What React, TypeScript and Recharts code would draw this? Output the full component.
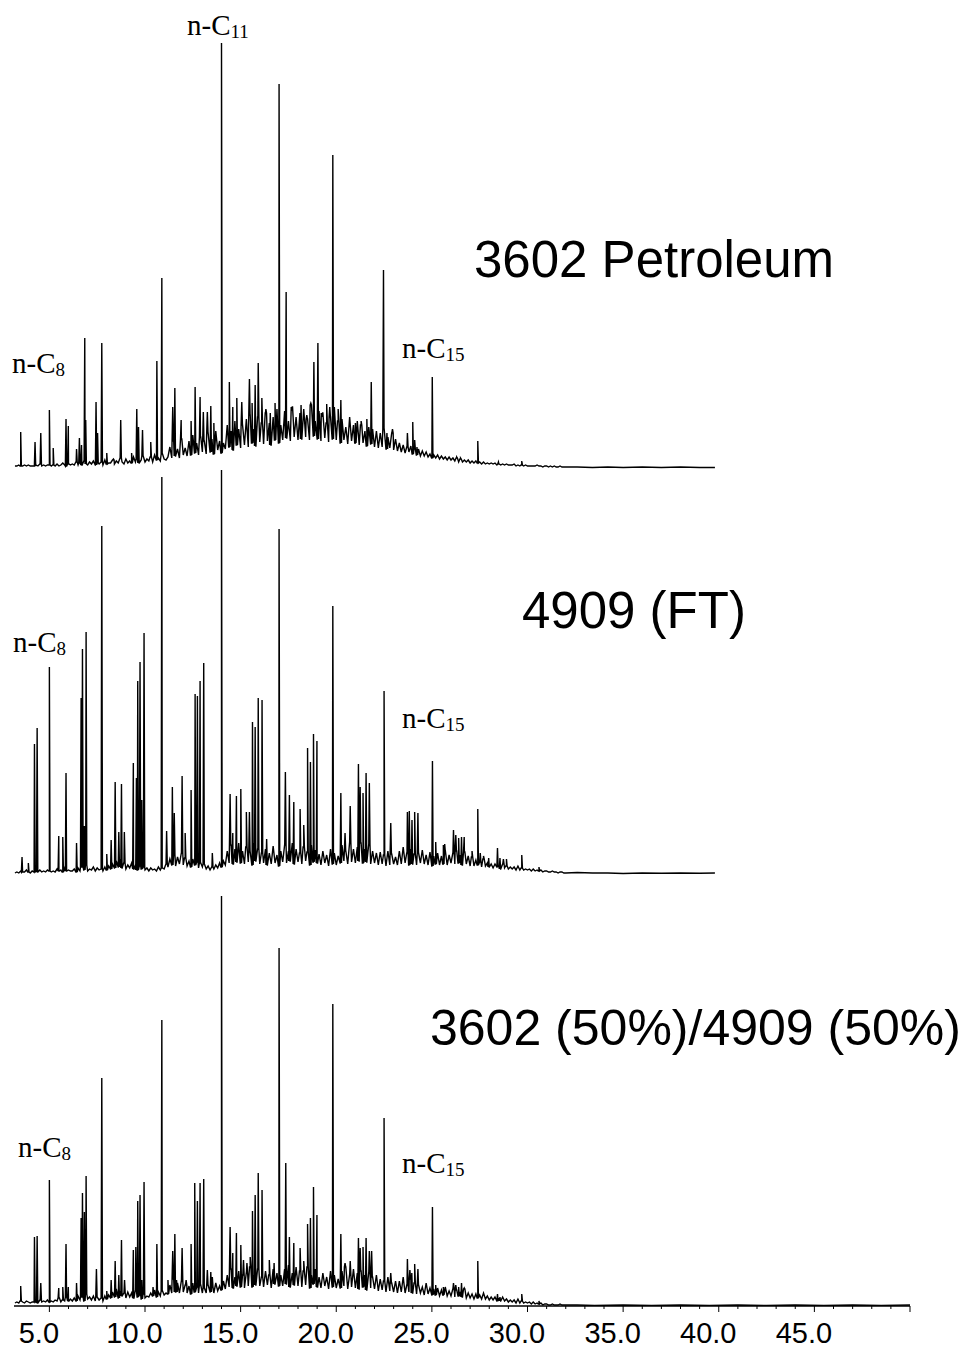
import React from 'react';
import { LineChart, Line, XAxis, YAxis } from 'recharts';

// ---------- shared axis values ----------
const X_DOMAIN: [number, number] = [3.15, 50];
const xTickValues = [5, 6, 7, 8, 9, 10, 11, 12, 13, 14, 15, 16, 17, 18, 19, 20, 21, 22, 23, 24, 25, 26, 27, 28, 29, 30, 31, 32, 33, 34, 35, 36, 37, 38, 39, 40, 41, 42, 43, 44, 45, 46, 47, 48, 49, 50];
const xLabeledTicks = [5, 10, 15, 20, 25, 30, 35, 40, 45];

// sampled signal: retention time 3.2 .. 32.0 min, every 0.1 min
const GRID_START = 3.2;
const GRID_STEP = 0.1;

// ---------- 3602 Petroleum ----------
const petroGrid = [
  1, 1, 2, 1, 1, 2, 1, 2, 1, 1,
  1, 2, 1, 3, 1, 2, 1, 2, 2, 1,
  2, 1, 3, 1, 2, 4, 2, 1, 3, 2,
  3, 2, 5, 2, 4, 2, 6, 3, 2, 5,
  3, 6, 2, 4, 3, 5, 2, 7, 3, 4,
  4, 7, 3, 6, 4, 9, 5, 3, 8, 4,
  6, 4, 10, 5, 8, 4, 7, 11, 5, 8,
  6, 10, 5, 12, 7, 9, 6, 13, 8, 7,
  10, 20, 9, 26, 11, 18, 9, 28, 12, 19,
  11, 26, 12, 32, 14, 24, 12, 30, 15, 26,
  13, 34, 15, 28, 13, 36, 17, 26, 14, 24,
  18, 42, 20, 36, 17, 46, 22, 38, 19, 42,
  22, 48, 20, 52, 24, 38, 21, 50, 25, 44,
  23, 54, 26, 44, 22, 50, 27, 58, 24, 42,
  27, 56, 29, 46, 26, 60, 30, 50, 27, 54,
  28, 58, 30, 48, 27, 62, 31, 46, 28, 56,
  26, 54, 29, 44, 25, 50, 28, 60, 27, 46,
  24, 48, 27, 40, 23, 50, 26, 42, 24, 46,
  22, 42, 24, 36, 21, 40, 23, 38, 20, 36,
  19, 34, 20, 38, 18, 30, 19, 34, 17, 28,
  16, 24, 15, 22, 14, 20, 15, 21, 13, 18,
  12, 18, 11, 16, 11, 15, 10, 13, 9, 12,
  9, 12, 8, 11, 8, 10, 7, 10, 7, 9,
  6, 9, 5, 8, 5, 7, 5, 7, 4, 6,
  4, 6, 4, 5, 3, 5, 3, 4, 3, 4,
  3, 4, 2, 3, 2, 3, 2, 3, 2, 2,
  2, 3, 1, 2, 1, 2, 1, 2, 1, 1,
  1, 1, 1, 2, 1, 1, 0, 1, 1, 0,
  1, 0, 1, 0, 0, 1, 0, 0, 0,
];
const petroPeakTimes = [3.5, 4.25, 4.55, 5.0, 5.2, 5.87, 5.99, 6.42, 6.57, 6.68, 6.85, 6.9, 7.44, 7.52, 7.74, 8.0, 8.35, 8.73, 9.3, 9.57, 9.66, 9.87, 10.3, 10.62, 10.88, 11.45, 11.56, 11.89, 12.41, 12.62, 12.88, 13.05, 13.26, 13.44, 13.6, 14.0, 14.41, 14.59, 14.8, 15.06, 15.46, 15.6, 15.76, 15.92, 16.11, 16.32, 16.55, 16.8, 17.01, 17.38, 17.68, 18.16, 18.46, 18.67, 18.83, 19.04, 19.25, 19.5, 19.66, 19.82, 20.1, 20.24, 21.0, 21.3, 21.6, 21.83, 22.47, 22.65, 22.94, 23.72, 24.0, 24.1, 24.22, 25.02, 26.3, 26.5, 27.4, 28.48, 29.7];
const petroPeakHeights = [35, 25, 34, 57, 19, 48, 41, 18, 29, 22, 129, 47, 65, 34, 124, 14, 8, 47, 14, 58, 40, 37, 25, 106, 189, 60, 79, 47, 46, 80, 70, 55, 55, 61, 44, 424, 85, 60, 69, 65, 88, 64, 82, 104, 69, 58, 54, 64, 383, 175, 56, 62, 52, 64, 105, 124, 50, 63, 60, 312, 58, 67, 44, 46, 48, 85, 197, 34, 38, 34, 45, 27, 20, 90, 10, 9, 26, 5, 6];
const petroTailTimes = [32.6, 33.4, 34.2, 35.0, 36.0, 37.0, 38.0, 39.0, 39.8];
const petroTailValues = [0, -0.5, 0, -0.5, 0, -0.5, 0, -0.5, -0.5];

// ---------- 4909 (FT) ----------
const ftGrid = [
  0, 1, 0, 2, 1, 1, 3, 1, 0, 2,
  1, 2, 1, 3, 1, 2, 1, 3, 2, 1,
  2, 1, 4, 2, 3, 1, 5, 2, 3, 2,
  2, 4, 1, 5, 2, 6, 3, 8, 2, 4,
  3, 6, 2, 5, 3, 4, 2, 6, 3, 7,
  4, 9, 5, 12, 6, 14, 5, 10, 4, 8,
  5, 10, 4, 8, 3, 7, 4, 6, 3, 5,
  2, 5, 3, 4, 2, 6, 3, 5, 4, 9,
  6, 14, 8, 18, 7, 16, 9, 20, 8, 15,
  7, 12, 6, 14, 8, 11, 5, 10, 6, 9,
  4, 7, 3, 6, 4, 8, 5, 10, 6, 12,
  8, 22, 10, 28, 9, 24, 11, 30, 10, 22,
  9, 26, 11, 21, 8, 30, 12, 24, 9, 20,
  10, 24, 8, 20, 9, 27, 10, 18, 7, 22,
  11, 28, 10, 22, 12, 30, 9, 24, 11, 20,
  9, 26, 12, 21, 8, 28, 11, 23, 10, 19,
  8, 22, 10, 18, 7, 24, 9, 20, 8, 17,
  10, 28, 12, 22, 9, 30, 11, 24, 10, 26,
  12, 30, 10, 24, 11, 28, 9, 22, 10, 20,
  8, 21, 9, 18, 7, 22, 8, 19, 9, 16,
  8, 22, 9, 26, 10, 20, 8, 24, 9, 19,
  8, 20, 10, 23, 9, 18, 8, 21, 7, 17,
  9, 20, 8, 17, 9, 22, 8, 18, 10, 20,
  9, 22, 10, 18, 8, 21, 9, 17, 7, 16,
  7, 13, 8, 11, 6, 14, 7, 10, 6, 9,
  5, 9, 6, 8, 4, 9, 5, 7, 4, 6,
  4, 6, 3, 7, 3, 5, 3, 4, 3, 4,
  2, 4, 2, 3, 2, 3, 1, 2, 2, 1,
  1, 2, 1, 1, 0, 1, 1, 0, 0,
];
const ftPeakTimes = [3.57, 3.9, 4.22, 4.36, 5.0, 5.49, 5.7, 5.87, 6.42, 6.66, 6.73, 6.83, 6.92, 7.74, 8.0, 8.23, 8.44, 8.63, 8.77, 8.92, 9.39, 9.55, 9.62, 9.74, 9.83, 9.95, 10.88, 11.13, 11.43, 11.53, 11.94, 12.1, 12.41, 12.62, 12.74, 12.88, 13.07, 13.52, 14.0, 14.45, 14.59, 14.78, 15.01, 15.3, 15.46, 15.62, 15.76, 15.92, 16.12, 16.36, 17.01, 17.34, 17.55, 17.78, 18.11, 18.3, 18.5, 18.65, 18.81, 18.99, 19.82, 20.24, 20.46, 20.73, 21.16, 21.25, 21.4, 21.56, 21.73, 22.5, 22.85, 23.72, 23.82, 23.96, 24.1, 24.27, 25.03, 25.2, 25.6, 25.67, 26.13, 26.25, 26.4, 26.55, 26.69, 27.1, 27.4, 27.53, 27.7, 27.97, 28.43, 28.56, 28.74, 28.9, 29.7, 30.6];
const ftPeakHeights = [16, 10, 129, 145, 206, 37, 36, 100, 30, 175, 224, 47, 241, 347, 19, 33, 91, 41, 89, 41, 110, 95, 192, 211, 73, 240, 396, 42, 86, 60, 97, 40, 83, 179, 177, 192, 210, 20, 403, 79, 40, 77, 84, 61, 61, 151, 146, 175, 173, 34, 344, 101, 78, 71, 64, 48, 125, 111, 139, 132, 267, 80, 40, 67, 109, 86, 80, 100, 90, 182, 50, 61, 62, 53, 61, 60, 112, 31, 28, 29, 43, 38, 35, 36, 36, 22, 64, 20, 17, 15, 25, 15, 14, 14, 18, 6];
const ftTailTimes = [32.6, 33.4, 34.2, 35.0, 36.0, 37.0, 38.0, 39.0, 39.8];
const ftTailValues = [0.5, 0, 0, -0.5, 0, -0.3, 0, -0.3, 0];

// ---------- 3602 (50%) / 4909 (50%) ----------
const mixGrid = [
  2, 3, 2, 4, 3, 2, 4, 3, 2, 3,
  3, 4, 2, 5, 3, 4, 3, 5, 3, 4,
  3, 5, 4, 7, 3, 5, 4, 8, 4, 6,
  4, 7, 4, 9, 5, 8, 4, 11, 6, 8,
  5, 9, 4, 8, 5, 7, 4, 9, 6, 10,
  7, 13, 8, 16, 7, 14, 9, 12, 7, 13,
  8, 12, 7, 14, 8, 10, 6, 11, 7, 9,
  8, 12, 9, 15, 8, 13, 9, 14, 10, 12,
  11, 20, 12, 26, 13, 22, 12, 24, 13, 20,
  12, 19, 11, 22, 13, 18, 12, 20, 12, 17,
  12, 20, 13, 18, 12, 22, 14, 19, 15, 24,
  16, 30, 18, 36, 17, 28, 19, 34, 18, 30,
  17, 32, 19, 38, 18, 30, 20, 36, 19, 28,
  18, 34, 20, 30, 17, 36, 21, 32, 19, 30,
  19, 36, 21, 40, 18, 32, 20, 38, 19, 34,
  18, 34, 20, 38, 17, 30, 21, 36, 18, 28,
  17, 32, 19, 28, 16, 34, 18, 30, 17, 26,
  17, 34, 19, 38, 16, 30, 18, 36, 17, 32,
  16, 34, 18, 30, 15, 32, 17, 28, 16, 30,
  14, 26, 15, 24, 13, 28, 14, 22, 13, 24,
  12, 24, 13, 28, 12, 20, 13, 26, 12, 22,
  11, 20, 12, 18, 10, 22, 11, 17, 10, 16,
  10, 17, 9, 15, 10, 18, 9, 14, 9, 16,
  8, 15, 9, 13, 8, 16, 7, 12, 7, 11,
  6, 11, 7, 10, 6, 12, 6, 9, 5, 8,
  5, 8, 4, 7, 4, 8, 4, 6, 3, 5,
  3, 5, 2, 6, 2, 4, 2, 3, 2, 3,
  1, 3, 1, 2, 1, 2, 0, 1, 1, 0,
  0, 1, 0, 0, 0, 1, 0, 0, 0,
];
const mixPeakTimes = [3.5, 4.22, 4.36, 4.55, 5.0, 5.49, 5.7, 5.87, 5.99, 6.42, 6.66, 6.73, 6.83, 6.92, 7.46, 7.74, 8.0, 8.23, 8.44, 8.63, 8.77, 8.93, 9.39, 9.52, 9.62, 9.74, 9.83, 9.95, 10.42, 10.62, 10.88, 11.2, 11.45, 11.56, 11.65, 11.94, 12.15, 12.41, 12.6, 12.74, 12.88, 13.07, 13.26, 13.44, 13.52, 14.0, 14.45, 14.59, 14.78, 15.01, 15.15, 15.33, 15.5, 15.62, 15.76, 15.92, 16.12, 16.5, 16.75, 17.01, 17.36, 17.55, 17.78, 18.11, 18.3, 18.5, 18.65, 18.81, 18.99, 19.82, 20.24, 20.46, 20.73, 21.16, 21.25, 21.4, 21.56, 21.73, 21.85, 22.5, 22.85, 23.72, 23.85, 23.95, 24.1, 24.27, 25.03, 25.2, 25.6, 26.13, 26.25, 26.4, 26.55, 26.69, 27.4, 28.43, 28.56, 29.7, 30.6];
const mixPeakHeights = [19, 68, 69, 22, 125, 17, 18, 61, 18, 22, 87, 112, 93, 129, 36, 227, 14, 25, 44, 30, 65, 25, 55, 58, 104, 110, 25, 123, 18, 61, 285, 25, 54, 71, 25, 57, 25, 61, 122, 104, 122, 126, 35, 33, 28, 409, 78, 52, 72, 60, 45, 42, 48, 94, 110, 132, 115, 45, 42, 357, 142, 68, 62, 57, 44, 81, 87, 118, 90, 301, 71, 42, 44, 67, 57, 58, 67, 54, 54, 187, 32, 46, 35, 32, 41, 36, 98, 20, 18, 22, 20, 18, 22, 17, 44, 11, 8, 11, 4];
const mixTailTimes = [32.6, 33.5, 35.0, 36.5, 38.0, 39.5, 41.0, 42.5, 44.0, 45.5, 47.0, 48.5, 50.0];
const mixTailValues = [0, -0.5, 0, -0.5, 0, -0.5, 0, -0.5, 0, -0.5, 0, -0.5, 0];

type Pt = { t: number; v: number; o: number };

function buildTrace(grid: number[], peakT: number[], peakH: number[], tailT: number[], tailV: number[]): Pt[] {
  const pts: Pt[] = grid.map((v, i) => ({ t: +(GRID_START + i * GRID_STEP).toFixed(3), v, o: 0 }));
  peakT.forEach((t, i) => {
    const idx = Math.min(grid.length - 1, Math.max(0, Math.round((t - GRID_START) / GRID_STEP)));
    const foot = grid[idx];
    pts.push({ t: t - 0.035, v: foot, o: 1 }, { t, v: peakH[i], o: 2 }, { t: t + 0.035, v: foot, o: 3 });
  });
  tailT.forEach((t, i) => pts.push({ t, v: tailV[i], o: 0 }));
  pts.sort((a, b) => a.t - b.t || a.o - b.o);
  return pts;
}

const petroData = buildTrace(petroGrid, petroPeakTimes, petroPeakHeights, petroTailTimes, petroTailValues);
const ftData = buildTrace(ftGrid, ftPeakTimes, ftPeakHeights, ftTailTimes, ftTailValues);
const mixData = buildTrace(mixGrid, mixPeakTimes, mixPeakHeights, mixTailTimes, mixTailValues);

const SANS = '"Liberation Sans", Arial, sans-serif';
const SERIF = '"Liberation Serif", "Times New Roman", serif';

function AxisTick(props: any) {
  const { x, y, payload } = props;
  const val = payload.value as number;
  const major = val % 5 === 0;
  const labeled = xLabeledTicks.includes(val);
  return (
    <g>
      <line x1={x} x2={x} y1={y} y2={y + (major ? 6 : 3)} stroke="#000" strokeWidth={1} />
      {labeled && (
        <text x={x - 10.5} y={y + 37} textAnchor="middle" fontSize={29} fontFamily={SANS} fill="#000">
          {val.toFixed(1)}
        </text>
      )}
    </g>
  );
}

function NC({ x, y, sub }: { x: number; y: number; sub: string }) {
  return (
    <text x={x} y={y} fontSize={29} fontFamily={SERIF} fill="#000">
      n-C
      <tspan fontSize={19} dy={3}>{sub}</tspan>
    </text>
  );
}

const W = 971;
const STROKE = 1.4;

export default function App() {
  return (
    <div style={{ position: 'absolute', left: 0, top: 0, width: W, height: 1348, background: '#fff' }}>
      <div style={{ position: 'absolute', left: 0, top: 0 }}>
        <LineChart width={W} height={480} data={petroData} margin={{ top: 43, bottom: 11, left: 14, right: 61 }}>
          <XAxis dataKey="t" type="number" domain={X_DOMAIN} allowDataOverflow hide />
          <YAxis type="number" domain={[-2, 424]} allowDataOverflow hide />
          <Line dataKey="v" stroke="#000" strokeWidth={STROKE} dot={false} isAnimationActive={false} type="linear" />
        </LineChart>
      </div>
      <div style={{ position: 'absolute', left: 0, top: 460 }}>
        <LineChart width={W} height={420} data={ftData} margin={{ top: 10, bottom: 5, left: 14, right: 61 }}>
          <XAxis dataKey="t" type="number" domain={X_DOMAIN} allowDataOverflow hide />
          <YAxis type="number" domain={[-2, 403]} allowDataOverflow hide />
          <Line dataKey="v" stroke="#000" strokeWidth={STROKE} dot={false} isAnimationActive={false} type="linear" />
        </LineChart>
      </div>
      <div style={{ position: 'absolute', left: 0, top: 880 }}>
        <LineChart width={W} height={468} data={mixData} margin={{ top: 16, bottom: 3, left: 14, right: 61 }}>
          <XAxis
            dataKey="t"
            type="number"
            domain={X_DOMAIN}
            allowDataOverflow
            ticks={xTickValues}
            interval={0}
            height={39}
            tickSize={0}
            tickMargin={0}
            tickLine={false}
            axisLine={{ stroke: '#000', strokeWidth: 1.5 }}
            tick={(p: any) => <AxisTick {...p} />}
          />
          <YAxis type="number" domain={[-1, 409]} allowDataOverflow hide />
          <Line dataKey="v" stroke="#000" strokeWidth={STROKE} dot={false} isAnimationActive={false} type="linear" />
        </LineChart>
      </div>
      <svg width={W} height={1348} style={{ position: 'absolute', left: 0, top: 0, pointerEvents: 'none' }}>
        <NC x={187} y={35} sub="11" />
        <NC x={12} y={373} sub="8" />
        <NC x={402} y={358} sub="15" />
        <NC x={13} y={652} sub="8" />
        <NC x={402} y={728} sub="15" />
        <NC x={18} y={1157} sub="8" />
        <NC x={402} y={1173} sub="15" />
        <text x={474} y={277} fontSize={51} fontFamily={SANS} fill="#000">3602 Petroleum</text>
        <text x={522} y={628} fontSize={51} fontFamily={SANS} fill="#000">4909 (FT)</text>
        <text x={430} y={1045} fontSize={50} fontFamily={SANS} fill="#000">3602 (50%)/4909 (50%)</text>
      </svg>
    </div>
  );
}
